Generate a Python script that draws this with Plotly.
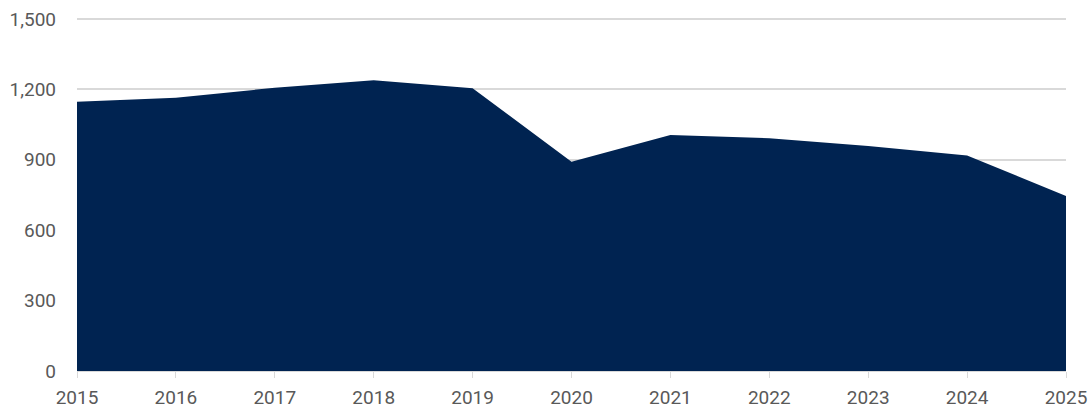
import plotly.graph_objects as go

years = [2015, 2016, 2017, 2018, 2019, 2020, 2021, 2022, 2023, 2024, 2025]
values = [1148, 1165, 1207, 1239, 1205, 892, 1006, 992, 959, 918, 746]
y_ticks = [0, 300, 600, 900, 1200, 1500]
y_tick_text = ["0", "300", "600", "900", "1,200", "1,500"]

NAVY = "#002351"
GRID = "#d9d9d9"
TEXT = "#595959"

fig = go.Figure(
    go.Scatter(
        x=years,
        y=values,
        mode="lines",
        line=dict(color=NAVY, width=0),
        fill="tozeroy",
        fillcolor=NAVY,
        hoverinfo="x+y",
    )
)

fig.update_layout(
    width=1092,
    height=414,
    margin=dict(l=77, r=26, t=12, b=43),
    paper_bgcolor="white",
    plot_bgcolor="white",
    showlegend=False,
    font=dict(family="Roboto", size=19, color=TEXT),
)

fig.update_xaxes(
    range=[2015, 2025],
    tickvals=years,
    ticktext=[str(y) for y in years],
    automargin=False,
    showgrid=False,
    zeroline=False,
    showline=True,
    linecolor=GRID,
    linewidth=1,
    ticks="outside",
    ticklen=6,
    tickcolor=GRID,
    ticklabelstandoff=3,
    tickfont=dict(size=19, color=TEXT),
)

# headroom above 1,500 so its gridline is drawn inside the plot area
fig.update_yaxes(
    range=[0, 1530],
    tickvals=y_ticks,
    ticktext=y_tick_text,
    automargin=False,
    showgrid=True,
    gridcolor=GRID,
    gridwidth=2,
    zeroline=False,
    showline=False,
    ticks="",
    ticklabelstandoff=20,
    tickfont=dict(size=19, color=TEXT),
)

fig.write_html("out.html")
